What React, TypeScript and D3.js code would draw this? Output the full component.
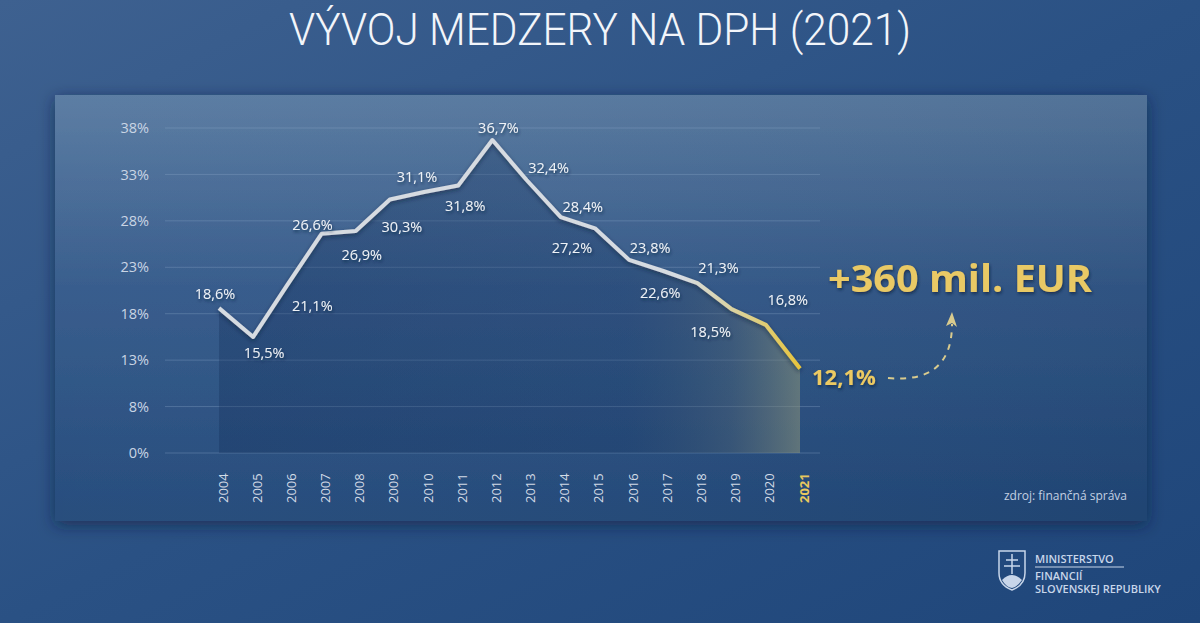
import React from "react";
import * as d3 from "d3";

const years = [2004, 2005, 2006, 2007, 2008, 2009, 2010, 2011, 2012, 2013, 2014, 2015, 2016, 2017, 2018, 2019, 2020, 2021];
const gapValues = [18.6, 15.5, 21.1, 26.6, 26.9, 30.3, 31.1, 31.8, 36.7, 32.4, 28.4, 27.2, 23.8, 22.6, 21.3, 18.5, 16.8, 12.1];
const valueLabels = ["18,6%", "15,5%", "21,1%", "26,6%", "26,9%", "30,3%", "31,1%", "31,8%", "36,7%", "32,4%", "28,4%", "27,2%", "23,8%", "22,6%", "21,3%", "18,5%", "16,8%", "12,1%"];
const yTickValues = [3, 8, 13, 18, 23, 28, 33, 38];
const yTickLabels = ["0%", "8%", "13%", "18%", "23%", "28%", "33%", "38%"];
const titleText = "VÝVOJ MEDZERY NA DPH (2021)";
const calloutText = "+360 mil. EUR";
const sourceText = "zdroj: finančná správa";

// label placement offsets (layout only)
const labelOffsets: [number, number][] = [
  [-4, -14], [11, 16], [25, 21], [-9, -9], [6, 24], [12, 27], [-7, -15], [7, 20], [6, -12],
  [22, -12], [22, -10], [-23, 20], [21, -12], [-3, 22], [21, -15], [-21, 23], [22, -25], [0, 0],
];

const W = 1200;
const H = 623;
const FONT = "'Open Sans', 'DejaVu Sans', sans-serif";

export default function App() {
  const x = d3.scaleLinear().domain([2004, 2021]).range([219, 800]);
  const y = d3.scaleLinear().domain([3, 38]).range([453, 128]);
  const data = years.map((yr, i) => ({ yr, v: gapValues[i], label: valueLabels[i] }));

  const line = d3.line<any>().x((d) => x(d.yr)).y((d) => y(d.v));
  const area = d3.area<any>().x((d) => x(d.yr)).y0(y(3)).y1((d) => y(d.v));

  const lastX = x(2021);
  const lastY = y(gapValues[gapValues.length - 1]);

  const gridX0 = 165;
  const gridX1 = 820;

  return (
    <svg width={W} height={H} style={{ position: "fixed", left: 0, top: 0 }} xmlns="http://www.w3.org/2000/svg">
      <defs>
        <linearGradient id="bg" x1="0" y1="0" x2="1" y2="1">
          <stop offset="0" stopColor="#3e6190" />
          <stop offset="0.5" stopColor="#2a5184" />
          <stop offset="1" stopColor="#1f467a" />
        </linearGradient>
        <linearGradient id="panel" x1="0" y1="0" x2="0" y2="1">
          <stop offset="0" stopColor="#587aa1" />
          <stop offset="0.45" stopColor="#33598a" />
          <stop offset="1" stopColor="#214879" />
        </linearGradient>
        <linearGradient id="panelH" x1="0" y1="0" x2="1" y2="0">
          <stop offset="0" stopColor="#ffffff" stopOpacity="0.03" />
          <stop offset="1" stopColor="#000000" stopOpacity="0.06" />
        </linearGradient>
        <linearGradient id="areaG" gradientUnits="userSpaceOnUse" x1={x(2004)} y1="0" x2={lastX} y2="0">
          <stop offset="0" stopColor="#0f2a55" stopOpacity="0.3" />
          <stop offset="0.7" stopColor="#13305c" stopOpacity="0.25" />
          <stop offset="0.88" stopColor="#4c5f6e" stopOpacity="0.4" />
          <stop offset="1" stopColor="#8d9478" stopOpacity="0.55" />
        </linearGradient>
        <linearGradient id="lineG" gradientUnits="userSpaceOnUse" x1={x(2004)} y1="0" x2={lastX} y2="0">
          <stop offset="0" stopColor="#d6dbe1" />
          <stop offset="0.8" stopColor="#d6dbe1" />
          <stop offset="0.92" stopColor="#ddcf85" />
          <stop offset="1" stopColor="#e8c43c" />
        </linearGradient>
        <filter id="shadow" x="-10%" y="-10%" width="120%" height="130%">
          <feDropShadow dx="0" dy="2" stdDeviation="2" floodColor="#0a1a35" floodOpacity="0.55" />
        </filter>
        <filter id="panelShadow" x="-5%" y="-10%" width="110%" height="125%">
          <feDropShadow dx="0" dy="4" stdDeviation="8" floodColor="#0b1d3c" floodOpacity="0.6" />
        </filter>
        <filter id="textShadow" x="-10%" y="-30%" width="120%" height="160%">
          <feDropShadow dx="1" dy="2" stdDeviation="1.5" floodColor="#10213f" floodOpacity="0.7" />
        </filter>
      </defs>

      <rect x={0} y={0} width={W} height={H} fill="url(#bg)" />

      <text x={600} y={45} textAnchor="middle" fill="#f2f5fa" fontFamily="Roboto, 'Open Sans', sans-serif"
        fontWeight={300} fontSize={45} textLength={622} lengthAdjust="spacingAndGlyphs">
        {titleText}
      </text>

      <g filter="url(#panelShadow)">
        <rect x={55} y={95} width={1092} height={426} fill="url(#panel)" />
      </g>
      <rect x={55} y={95} width={1092} height={426} fill="url(#panelH)" />

      {/* gridlines */}
      {yTickValues.map((t) => (
        <line key={t} x1={gridX0} x2={gridX1} y1={y(t)} y2={y(t)} stroke="#8aa6c8" strokeOpacity={0.35} strokeWidth={1} />
      ))}

      {/* y labels */}
      {yTickValues.map((t, i) => (
        <text key={"yl" + t} x={149} y={y(t)} dy="0.35em" textAnchor="end" fill="#c9d5e4" fontFamily={FONT} fontSize={14.5} fontWeight={400}>
          {yTickLabels[i]}
        </text>
      ))}

      {/* area */}
      <path d={area(data) || ""} fill="url(#areaG)" />

      {/* line */}
      <path d={line(data) || ""} fill="none" stroke="url(#lineG)" strokeWidth={4} strokeLinejoin="round" filter="url(#shadow)" />

      {/* value labels */}
      {data.slice(0, data.length - 1).map((d, i) => (
        <text key={"vl" + d.yr} x={x(d.yr) + labelOffsets[i][0]} y={y(d.v) + labelOffsets[i][1]} dy="0.35em" textAnchor="middle"
          fill="#eef2f7" fontFamily={FONT} fontSize={14.5} fontWeight={500} filter="url(#textShadow)">
          {d.label}
        </text>
      ))}
      <text x={lastX + 12} y={lastY + 9} dy="0.35em" textAnchor="start" fill="#ecca62" fontFamily={FONT} fontSize={22} fontWeight={700} filter="url(#textShadow)">
        {valueLabels[valueLabels.length - 1]}
      </text>

      {/* year labels */}
      {years.map((yr, i) => {
        const isLast = i === years.length - 1;
        const lx = x(yr) + 4;
        const ly = 503;
        return (
          <text key={"yr" + yr} x={lx} y={ly} dy="0.35em" textAnchor="start" transform={`rotate(-90 ${lx} ${ly})`}
            fill={isLast ? "#e8c85e" : "#d3dbe6"} fontFamily={FONT} fontSize={13} fontWeight={isLast ? 700 : 400}>
            {yr}
          </text>
        );
      })}

      {/* callout */}
      <text x={828} y={292} fill="#e9c965" fontFamily={FONT} fontSize={37} fontWeight={700} textLength={264} lengthAdjust="spacingAndGlyphs" filter="url(#textShadow)">
        {calloutText}
      </text>
      <path d="M888,378 Q952,384 952,324" fill="none" stroke="#d9cb8e" strokeWidth={2} strokeDasharray="6,6" />
      <path d="M946,326 L952,312 L957,327 L952,323 Z" fill="#d9cb8e" />

      {/* source */}
      <text x={1127} y={500} textAnchor="end" fill="#c3d0e2" fontFamily={FONT} fontSize={12}>
        {sourceText}
      </text>

      {/* logo */}
      <g>
        <path d="M999,551 L1025,551 L1025,573 Q1025,585 1012,590 Q999,585 999,573 Z" fill="none" stroke="#c8d6ea" strokeWidth={1.5} />
        <path d="M1002,580 Q1012,570 1022,580 Q1017,587 1012,588 Q1006,587 1002,580 Z" fill="#c8d6ea" />
        <path d="M1012,554 L1012,574 M1006,560 L1018,560 M1004,566 L1020,566" stroke="#c8d6ea" strokeWidth={1.5} />
        <text x={1035} y={563} fill="#c8d6ea" fontFamily={FONT} fontSize={11} fontWeight={600}>MINISTERSTVO</text>
        <line x1={1035} x2={1124} y1={567} y2={567} stroke="#c8d6ea" strokeWidth={1} />
        <text x={1035} y={580} fill="#c8d6ea" fontFamily={FONT} fontSize={11} fontWeight={600}>FINANCIÍ</text>
        <text x={1035} y={593} fill="#c8d6ea" fontFamily={FONT} fontSize={11} fontWeight={600}>SLOVENSKEJ REPUBLIKY</text>
      </g>
    </svg>
  );
}
